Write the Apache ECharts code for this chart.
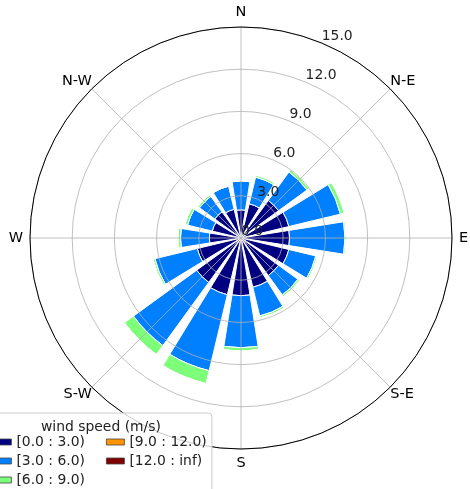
<!DOCTYPE html>
<html>
<head>
<meta charset="utf-8">
<script src="https://cdn.jsdelivr.net/npm/echarts@6/dist/echarts.min.js"></script>
<style>
html,body{margin:0;padding:0;background:#fff;}
#chart{width:470px;height:489px;}
</style>
</head>
<body>
<div id="chart"></div>
<script>
// ---- data ----
const directions = ['N','NNE','NE','ENE','E','ESE','SE','SSE','S','SSW','SW','WSW','W','WNW','NW','NNW'];
const dirLabels = ['N','N-E','E','S-E','S','S-W','W','N-W'];
const radiusMax = 15;
const radiusInterval = 3;
const binNames = ['[0.0 : 3.0)','[3.0 : 6.0)','[6.0 : 9.0)','[9.0 : 12.0)','[12.0 : inf)'];
const speed0to3  = [2.0, 2.5, 3.3, 3.5, 3.45, 3.5, 3.3, 3.6, 4.1, 4.15, 3.9, 3.2, 2.25, 2.1, 2.3, 2.1];
const speed3to6  = [2.05, 1.95, 2.5, 3.77, 3.94, 1.97, 1.7, 2.1, 3.7, 5.55, 5.55, 3.1, 2.05, 1.8, 1.35, 1.7];
const speed6to9  = [0.08, 0.15, 0.2, 0.28, 0.11, 0.13, 0.15, 0.15, 0.25, 0.95, 0.8, 0.15, 0.2, 0.2, 0.15, 0.0];
const speed9to12 = [0, 0, 0, 0, 0, 0, 0, 0, 0, 0, 0, 0, 0, 0, 0, 0];
const speed12inf = [0, 0, 0, 0, 0, 0, 0, 0, 0, 0, 0, 0, 0, 0, 0, 0];
const binColors = ['#000080', '#0080ff', '#7dff7a', '#ff9400', '#800000'];

const FONT = 'DejaVu Sans';
const LFS = 13.9;
const chart = echarts.init(document.getElementById('chart'), null, {renderer: 'canvas'});
const center = [241, 238];
const R = 211;
const gridColor = '#b0b0b0';

const seriesData = [speed0to3, speed3to6, speed6to9, speed9to12, speed12inf];
const series = seriesData.map((d, i) => ({
  name: binNames[i],
  type: 'bar',
  coordinateSystem: 'polar',
  polarIndex: 2,
  stack: 'wind',
  data: d,
  barCategoryGap: '20%',
  z: 2,
  itemStyle: {color: binColors[i], borderColor: '#ffffff', borderWidth: 1},
  emphasis: {disabled: true},
  animation: false
}));

const legendCommon = {
  orient: 'vertical',
  itemGap: 5,
  itemWidth: 18, itemHeight: 6,
  itemStyle: {borderColor: '#444', borderWidth: 0.8},
  textStyle: {fontFamily: FONT, fontSize: LFS, color: '#222'},
  selectedMode: false
};

const option = {
  animation: false,
  title: {
    text: 'wind speed (m/s)',
    left: 41, top: 420, padding: 0, z: 20,
    textStyle: {fontFamily: FONT, fontSize: LFS, fontWeight: 'normal', color: '#222'}
  },
  legend: [
    Object.assign({}, legendCommon, {
      left: -15, top: 413,
      height: 80,
      padding: [22, 127, 16, 8],
      backgroundColor: 'rgba(255,255,255,0.8)',
      borderColor: '#cccccc', borderWidth: 1, borderRadius: 4,
      z: 10,
      data: binNames.slice(0, 3).map(n => ({name: n, icon: 'rect'}))
    }),
    Object.assign({}, legendCommon, {
      left: 106, top: 435,
      height: 60,
      padding: 0,
      z: 11,
      data: binNames.slice(3).map(n => ({name: n, icon: 'rect'}))
    })
  ],
  polar: [
    {center: center, radius: R},
    {center: center, radius: R},
    {center: center, radius: R}
  ],
  angleAxis: [
    {
      polarIndex: 0, type: 'value', min: 0, max: 360, interval: 45,
      startAngle: 90, clockwise: true, z: 5,
      axisLine: {show: true, lineStyle: {color: '#000', width: 1}},
      axisTick: {show: false},
      splitLine: {show: true, lineStyle: {color: gridColor, width: 0.8}},
      axisLabel: {
        show: true, margin: 0, color: '#000',
        fontFamily: FONT, fontSize: 14.5,
        formatter: v => {
          const name = dirLabels[Math.round(v / 45) % 8];
          return name.length === 1 ? '{c|' + name + '}' : '{d|' + name + '}';
        },
        rich: {
          c: {fontFamily: FONT, fontSize: 14.5, color: '#000', padding: 7},
          d: {fontFamily: FONT, fontSize: 14.5, color: '#000'}
        }
      }
    },
    {
      polarIndex: 1, type: 'value', min: 0, max: 360, startAngle: 67.5, show: false
    },
    {
      polarIndex: 2, type: 'category', data: directions, startAngle: 101.25,
      clockwise: true, boundaryGap: true, show: false
    }
  ],
  radiusAxis: [
    {
      polarIndex: 0, type: 'value', min: 0, max: radiusMax, interval: radiusInterval, z: 5,
      axisLine: {show: false}, axisTick: {show: false}, axisLabel: {show: false},
      splitLine: {show: true, lineStyle: {color: gridColor, width: 0.8}}
    },
    {
      polarIndex: 1, type: 'value', min: 0, max: radiusMax, interval: radiusInterval, z: 8,
      axisLine: {show: false}, axisTick: {show: false}, splitLine: {show: false},
      axisLabel: {
        show: true, margin: 0, align: 'left', verticalAlign: 'bottom',
        color: '#222', fontFamily: FONT, fontSize: 13.9,
        formatter: v => v.toFixed(1)
      }
    },
    {
      polarIndex: 2, type: 'value', min: 0, max: radiusMax, show: false
    }
  ],
  series: series
};
chart.setOption(option);
</script>
</body>
</html>
